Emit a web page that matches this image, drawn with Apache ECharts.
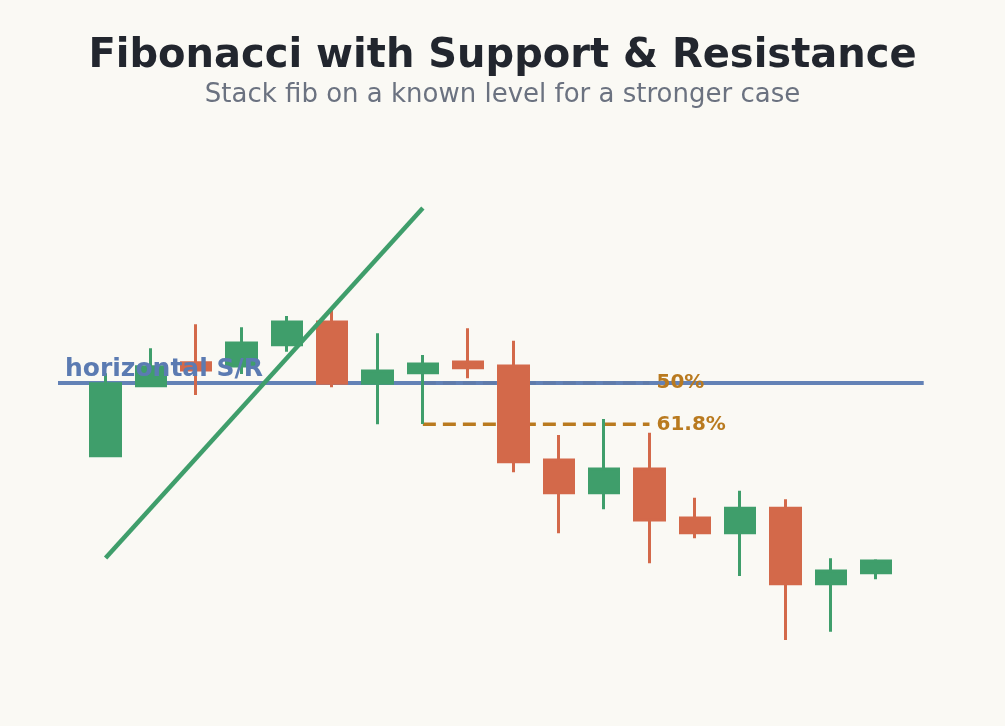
<!DOCTYPE html>
<html>
<head>
<meta charset="utf-8">
<script src="https://cdn.jsdelivr.net/npm/echarts@6/dist/echarts.min.js"></script>
<style>
html,body{margin:0;padding:0;background:#faf9f4;}
#chart{width:1005px;height:726px;}
</style>
</head>
<body>
<div id="chart"></div>
<script>
// candle index positions
const candleIndex = [0,1,2,3,4,5,6,7,8,9,10,11,12,13,14,15,16,17];
// OHLC values
const opens  = [92.73, 99.73,102.03,101.70,103.83,106.10, 99.97,101.03,102.10,101.70,92.30,89.03,91.40,86.50,85.03,87.47,79.93,81.03];
const closes = [99.93,101.63,101.30,104.00,106.10, 99.97,101.20,101.90,101.53, 92.13,89.03,91.40,86.30,85.03,87.47,79.93,81.20,82.20];
const lows   = [92.63, 99.63, 98.80,100.90,103.13, 99.57, 95.87, 95.90,100.47, 91.07,84.97,87.37,81.97,84.47,80.70,74.30,75.13,80.37];
const highs  = [100.97,103.47,105.87,105.57,106.70,107.47,104.97,102.80,105.47,104.23,94.80,96.40,95.03,88.53,89.23,88.37,82.47,82.37];

// swing (trend) line from low to high
const swingX = [0, 7];
const swingY = [82.5, 117.5];
// horizontal support / resistance
const srLevel = 100;
const srRange = [-1.05, 18.05];
// fibonacci levels drawn from swing
const fibRatios = [0.5, 0.618];
const fibLabels = ['50%', '61.8%'];
const fibRange = [7, 12];

const GREEN = '#3f9e6b', RED = '#d3694a', BLUE = '#5b7bb2', AMBER = '#b97a1f';
const FONT = 'DejaVu Sans';

const candleData = candleIndex.map((x, i) => [x, opens[i], closes[i], lows[i], highs[i]]);
const swingRange = swingY[1] - swingY[0];
const fibLevels = fibRatios.map(r => swingY[1] - r * swingRange);

const fibLineSeries = fibLevels.map(lvl => ({
  type: 'line',
  z: 1,
  silent: true,
  symbol: 'none',
  data: [[fibRange[0], lvl], [fibRange[1], lvl]],
  lineStyle: { color: AMBER, width: 3.5, type: [13, 7], opacity: 1 }
}));

const fibLabelSeries = {
  type: 'scatter',
  z: 5,
  silent: true,
  symbolSize: 0,
  itemStyle: { opacity: 1 },
  data: fibLevels.map((lvl, k) => ({ value: [fibRange[1], lvl], name: fibLabels[k] })),
  label: {
    show: true,
    position: 'right',
    distance: 7,
    formatter: p => p.name,
    color: AMBER,
    opacity: 1,
    textBorderWidth: 0,
    fontFamily: FONT,
    fontWeight: 'bold',
    fontSize: 20
  }
};

const chart = echarts.init(document.getElementById('chart'), null, { renderer: 'canvas' });
chart.setOption({
  backgroundColor: '#faf9f4',
  animation: false,
  title: [
    { text: 'Fibonacci with Support & Resistance', left: 'center', top: 32,
      textStyle: { fontFamily: FONT, fontSize: 40, fontWeight: 'bold', color: '#22262e' } },
    { text: 'Stack fib on a known level for a stronger case', left: 'center', top: 77,
      textStyle: { fontFamily: FONT, fontSize: 26, fontWeight: 'normal', color: '#6b7280' } }
  ],
  grid: { left: 58, right: 81.3, top: 133, bottom: 43 },
  xAxis: { type: 'value', min: srRange[0], max: srRange[1], show: false },
  yAxis: { type: 'value', min: 70, max: 125, show: false },
  series: [
    ...fibLineSeries,
    {
      type: 'line',
      z: 2,
      silent: true,
      symbol: 'none',
      data: [[srRange[0], srLevel], [srRange[1], srLevel]],
      lineStyle: { color: BLUE, width: 4, opacity: 0.95 }
    },
    {
      type: 'candlestick',
      z: 3,
      barWidth: 30,
      encode: { x: 0, y: [1, 2, 3, 4] },
      data: candleData,
      itemStyle: {
        color: GREEN, color0: RED,
        borderColor: GREEN, borderColor0: RED,
        borderWidth: 3
      }
    },
    {
      type: 'line',
      z: 4,
      silent: true,
      symbol: 'none',
      data: swingX.map((x, i) => [x, swingY[i]]),
      lineStyle: { color: GREEN, width: 4.5 }
    },
    fibLabelSeries,
    {
      type: 'scatter',
      z: 5,
      silent: true,
      symbolSize: 0,
      itemStyle: { opacity: 1 },
      data: [[srRange[0], srLevel]],
      label: {
        show: true,
        position: 'right',
        distance: 7,
        offset: [0, -14],
        formatter: 'horizontal S/R',
        color: BLUE,
        opacity: 1,
        textBorderWidth: 0,
        fontFamily: FONT,
        fontWeight: 'bold',
        fontSize: 25
      }
    }
  ]
});
</script>
</body>
</html>
